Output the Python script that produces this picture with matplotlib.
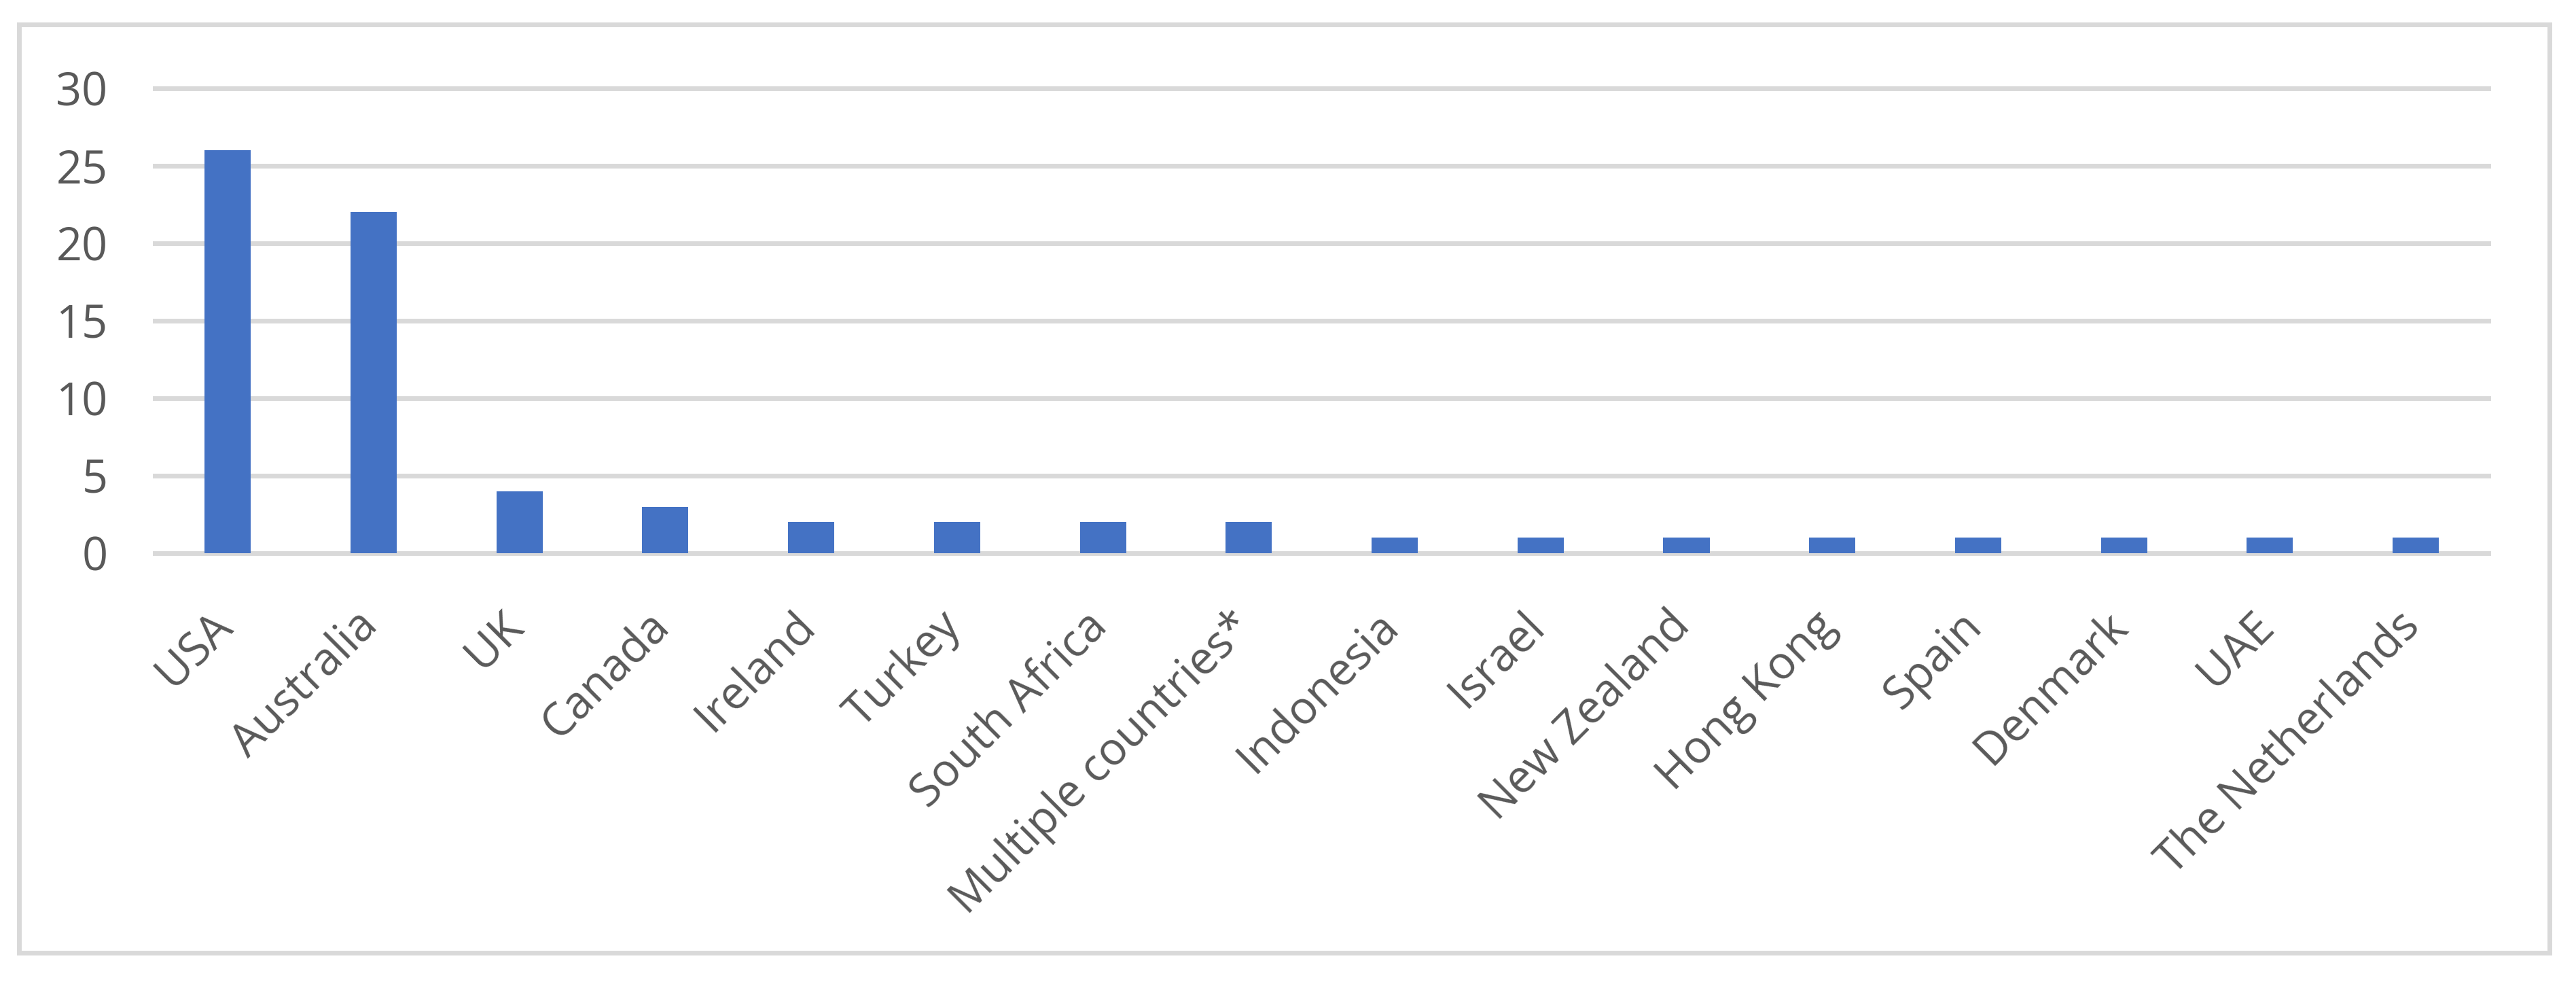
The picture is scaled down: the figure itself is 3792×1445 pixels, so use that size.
import matplotlib.pyplot as plt
from matplotlib.patches import Rectangle
from matplotlib.transforms import ScaledTranslation

# Countries and study counts
countries = ['USA', 'Australia', 'UK', 'Canada', 'Ireland', 'Turkey', 'South Africa',
             'Multiple countries*', 'Indonesia', 'Israel', 'New Zealand', 'Hong Kong',
             'Spain', 'Denmark', 'UAE', 'The Netherlands']
counts = [26, 22, 4, 3, 2, 2, 2, 2, 1, 1, 1, 1, 1, 1, 1, 1]
y_ticks = [0, 5, 10, 15, 20, 25, 30]

bar_color = '#4472C4'
grid_color = '#D9D9D9'
text_color = '#595959'

plt.rcParams['font.family'] = ['Open Sans', 'DejaVu Sans']

fig = plt.figure(figsize=(37.92, 14.45), dpi=100)
ax = fig.add_axes([0.0601, 0.4367, 0.906, 0.4733])

x = range(len(countries))
ax.bar(x, counts, width=0.317, color=bar_color, zorder=2)

ax.set_xlim(-0.5, len(countries) - 0.5)
ax.set_ylim(0, 30)
ax.set_yticks(y_ticks)
ax.set_yticklabels([str(t) for t in y_ticks])
ax.set_xticks(list(x))
ax.set_xticklabels(countries, rotation=45, ha='right', va='top',
                   rotation_mode='anchor')

ax.tick_params(axis='both', length=0, labelsize=48, labelcolor=text_color)
ax.tick_params(axis='y', pad=50)
ax.tick_params(axis='x', pad=53)

# nudge the rotated labels a bit to the left, like Excel does
shift = ScaledTranslation(-28 / 100, 0, fig.dpi_scale_trans)
for lbl in ax.get_xticklabels():
    lbl.set_transform(lbl.get_transform() + shift)

ax.yaxis.grid(True, color=grid_color, linewidth=5, zorder=1)
for line in ax.get_ygridlines():
    line.set_clip_on(False)
ax.set_axisbelow(True)
for s in ax.spines.values():
    s.set_visible(False)

# outer chart border
fig.patches.append(Rectangle((28 / 3792, 1 - 1402 / 1445), (3753 - 28) / 3792,
                             (1402 - 36) / 1445, transform=fig.transFigure,
                             fill=False, edgecolor=grid_color, linewidth=5))

fig.savefig('out.png', dpi=100)
